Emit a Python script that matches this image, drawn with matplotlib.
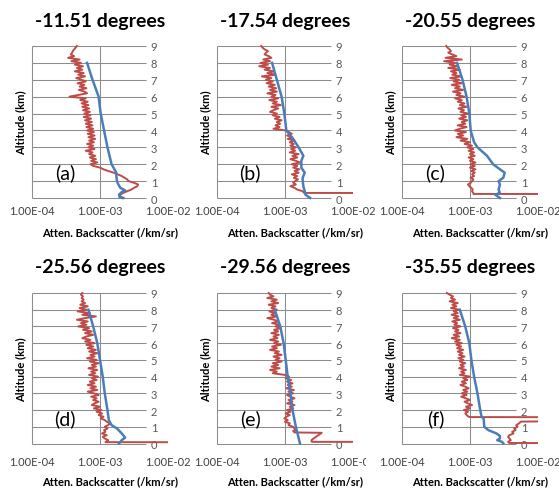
"""
Lidar backscatter profiles at six latitudes
"""

import numpy as np
import matplotlib
matplotlib.use('Agg')
import matplotlib.pyplot as plt
from matplotlib.patches import Rectangle

plt.rcParams['font.family'] = ['Lato', 'DejaVu Sans']

#Panel titles and tags
TITLES = ['-11.51 degrees', '-17.54 degrees', '-20.55 degrees',
          '-25.56 degrees', '-29.56 degrees', '-35.55 degrees']
TAGS = ['(a)', '(b)', '(c)', '(d)', '(e)', '(f)']

#Axis ticks
XTICKS = [1e-4, 1e-3, 1e-2]
XTICK_LABELS = ['1.00E-04', '1.00E-03', '1.00E-02']
YTICKS = [0, 1, 2, 3, 4, 5, 6, 7, 8, 9]

#Blue profile (altitude km, log10 backscatter)
blue_alt_a = [8, 7, 6, 5, 4, 3, 2, 1.5, 1.3, 1.0, 0.8, 0.6, 0.45, 0.35, 0.2, 0.05, 0.0]
blue_log_a = [-3.19, -3.11, -3.02, -2.99, -2.94, -2.89, -2.83, -2.76, -2.76, -2.75,
              -2.73, -2.70, -2.63, -2.68, -2.72, -2.71, -2.67]
blue_alt_b = [8, 7, 6, 5, 4, 3.5, 3, 2.5, 2.2, 1.8, 1.5, 1.2, 1.0, 0.7, 0.4, 0.2, 0.0]
blue_log_b = [-3.19, -3.12, -3.05, -3.01, -2.98, -2.88, -2.80, -2.73, -2.76, -2.76,
              -2.71, -2.74, -2.74, -2.73, -2.71, -2.70, -2.63]
blue_alt_c = [8, 7, 6, 5, 4, 3.3, 3.0, 2.5, 2.0, 1.7, 1.5, 1.2, 1.0, 0.8, 0.5, 0.3, 0.2, 0.0]
blue_log_c = [-3.19, -3.11, -3.05, -3.01, -2.99, -2.94, -2.89, -2.75, -2.66, -2.56,
              -2.49, -2.51, -2.58, -2.56, -2.58, -2.56, -2.63, -2.56]
blue_alt_d = [8, 7, 6, 5, 4, 3, 2, 1.4, 1.1, 0.9, 0.6, 0.35, 0.2, 0.0]
blue_log_d = [-3.17, -3.10, -3.04, -3.00, -2.96, -2.93, -2.89, -2.87, -2.83, -2.75,
              -2.68, -2.63, -2.68, -2.72]
blue_alt_e = [8, 7, 6, 5, 4, 3, 2, 1, 0]
blue_log_e = [-3.15, -3.07, -3.02, -2.99, -2.96, -2.92, -2.89, -2.84, -2.78]
blue_alt_f = [8, 7, 6, 5, 4, 3, 2, 1.6, 1.5, 1.0, 0.8, 0.6, 0.45, 0.3, 0.2, 0.1, 0.0]
blue_log_f = [-3.15, -3.07, -3.01, -2.98, -2.94, -2.89, -2.85, -2.83, -2.80, -2.79,
              -2.73, -2.61, -2.56, -2.56, -2.60, -2.53, -2.51]

#Red profile: log10 values every 0.1 km from 9 km downwards
red_log_a = [-3.34, -3.36, -3.38, -3.40, -3.41, -3.43, -3.38, -3.47, -3.30, -3.42,
             -3.28, -3.37, -3.25, -3.34, -3.26, -3.37, -3.24, -3.32, -3.22, -3.35,
             -3.27, -3.21, -3.33, -3.23, -3.30, -3.20, -3.31, -3.23, -3.19, -3.32,
             -3.45, -3.21, -3.29, -3.18, -3.27, -3.17, -3.26, -3.16, -3.25, -3.15,
             -3.23, -3.14, -3.24, -3.13, -3.22, -3.12, -3.21, -3.11, -3.20, -3.10,
             -3.19, -3.09, -3.18, -3.08, -3.17, -3.07, -3.16, -3.09, -3.19, -3.10,
             -3.17, -3.08, -3.21, -3.11, -3.16, -3.07, -3.15, -3.06, -3.13, -3.04,
             -3.14, -3.10, -3.00, -2.95, -2.88, -2.80, -2.74, -2.68, -2.64, -2.60,
             -2.58, -2.50, -2.44, -2.45, -2.50, -2.54, -2.60, -2.66, -2.70, -2.71,
             -2.65]
red_log_b = [-3.35, -3.33, -3.30, -3.25, -3.28, -3.30, -3.24, -3.20, -3.32, -3.22,
             -3.36, -3.25, -3.38, -3.22, -3.30, -3.16, -3.26, -3.14, -3.34, -3.20,
             -3.28, -3.18, -3.27, -3.15, -3.24, -3.13, -3.22, -3.12, -3.26, -3.14,
             -3.20, -3.10, -3.23, -3.12, -3.18, -3.06, -3.20, -3.10, -3.17, -3.22,
             -3.12, -3.18, -3.08, -3.15, -3.05, -3.12, -3.07, -3.14, -3.08, -3.17,
             -2.99, -2.94, -2.90, -2.97, -2.89, -2.96, -2.86, -2.93, -2.87, -2.92,
             -2.84, -2.91, -2.85, -2.93, -2.80, -2.89, -2.82, -2.92, -2.84, -2.78,
             -2.90, -2.82, -2.88, -2.79, -2.86, -2.80, -2.90, -2.82, -2.87, -2.81,
             -2.85, -2.88, -2.84, -2.92, -2.86, -2.82, -2.74]
red_log_c = [-3.35, -3.33, -3.30, -3.28, -3.32, -3.26, -3.20, -3.36, -3.12, -3.38,
             -3.22, -3.30, -3.18, -3.32, -3.15, -3.28, -3.20, -3.26, -3.13, -3.29,
             -3.16, -3.24, -3.12, -3.27, -3.15, -3.22, -3.10, -3.25, -3.14, -3.20,
             -3.08, -3.22, -3.12, -3.18, -3.08, -3.15, -3.05, -3.17, -3.09, -3.14,
             -3.03, -3.13, -3.06, -3.16, -3.04, -3.12, -3.07, -3.18, -3.05, -3.15,
             -3.22, -3.06, -3.18, -3.10, -3.20, -3.04, -3.14, -3.00, -3.08, -2.97,
             -3.04, -2.95, -3.02, -2.94, -3.00, -2.93, -3.02, -2.95, -3.00, -2.92,
             -2.99, -2.93, -3.00, -2.92, -2.98, -2.93, -2.97, -2.94, -2.99, -2.95,
             -2.97, -2.99, -3.03, -3.01, -2.98, -2.96, -2.97, -2.95]
red_log_d = [-3.26, -3.28, -3.25, -3.27, -3.24, -3.27, -3.22, -3.29, -3.18, -3.30,
             -3.20, -3.33, -3.15, -3.26, -3.06, -3.22, -3.34, -3.18, -3.28, -3.20,
             -3.32, -3.16, -3.25, -3.12, -3.22, -3.10, -3.20, -3.26, -3.14, -3.22,
             -3.08, -3.20, -3.10, -3.18, -3.06, -3.16, -3.04, -3.14, -3.08, -3.19,
             -3.05, -3.15, -3.02, -3.12, -3.06, -3.17, -3.04, -3.13, -3.07, -3.16,
             -3.03, -3.12, -3.05, -3.15, -3.08, -3.18, -3.06, -3.14, -3.04, -3.18,
             -3.09, -3.02, -3.13, -3.05, -3.10, -3.02, -3.08, -3.12, -3.00, -3.09,
             -2.98, -3.05, -2.97, -3.02, -2.95, -2.99, -2.93, -2.90, -2.85, -2.88,
             -2.93, -2.89, -2.94, -2.92, -2.97, -2.90, -2.96, -2.93, -2.88]
red_log_e = [-3.24, -3.22, -3.17, -3.26, -3.12, -3.20, -3.10, -3.24, -3.14, -3.20,
             -3.12, -3.23, -3.15, -3.20, -3.12, -3.26, -3.16, -3.10, -3.19, -3.08,
             -3.14, -3.06, -3.16, -3.10, -3.20, -3.09, -3.17, -3.11, -3.22, -3.10,
             -3.16, -3.06, -3.19, -3.12, -3.22, -3.09, -3.15, -3.05, -3.17, -3.08,
             -3.14, -3.05, -3.18, -3.10, -3.20, -3.08, -3.22, -3.12, -3.18, -3.00,
             -2.94, -2.99, -2.91, -2.97, -2.89, -2.96, -2.90, -2.98, -2.87, -2.95,
             -2.88, -2.97, -2.92, -2.86, -2.95, -2.89, -2.97, -2.86, -2.93, -2.88,
             -2.97, -2.92, -2.99, -2.93, -2.98, -3.01, -2.96, -3.00, -2.93, -2.95,
             -2.88, -2.86, -2.84]
red_log_f = [-3.34, -3.30, -3.25, -3.28, -3.22, -3.30, -3.18, -3.26, -3.20, -3.28,
             -3.16, -3.24, -3.18, -3.27, -3.17, -3.24, -3.15, -3.26, -3.19, -3.23,
             -3.14, -3.25, -3.17, -3.22, -3.14, -3.24, -3.16, -3.27, -3.15, -3.22,
             -3.12, -3.20, -3.13, -3.19, -3.10, -3.18, -3.11, -3.16, -3.08, -3.17,
             -3.10, -3.15, -3.07, -3.14, -3.09, -3.16, -3.06, -3.13, -3.08, -3.15,
             -3.00, -3.10, -3.04, -3.12, -3.06, -3.14, -3.07, -3.02, -3.10, -3.04,
             -3.12, -3.05, -3.13, -3.06, -3.00, -3.08, -3.03, -2.97, -3.06, -3.00,
             -3.09, -3.03, -3.07, -3.05]

#Red profile near the surface (altitude km, log10 backscatter)
red_tail_alt_a = []
red_tail_log_a = []
red_tail_alt_b = [0.30, 0.29]
red_tail_log_b = [-2.72, 0.0]
red_tail_alt_c = [0.24, 0.23]
red_tail_log_c = [-2.95, 0.0]
red_tail_alt_d = [0.08, 0.07]
red_tail_log_d = [-2.92, 0.0]
red_tail_alt_e = [0.75, 0.66, 0.64, 0.58, 0.44, 0.30, 0.20, 0.12, 0.10, 0.09]
red_tail_log_e = [-2.88, -2.86, -2.46, -2.48, -2.53, -2.58, -2.61, -2.61, -2.60, 0.0]
red_tail_alt_f = [1.60, 1.58, 1.57, 1.52, 1.50, 1.47, 1.35, 1.31, 1.2, 1.1, 1.0, 0.9,
                  0.8, 0.7, 0.6, 0.5, 0.4, 0.3, 0.2, 0.1, 0.03, 0.02]
red_tail_log_f = [-3.02, -3.00, -1.0, -1.0, -1.95, -1.0, -1.0, -2.25, -2.28, -2.32,
                  -2.30, -2.35, -2.33, -2.38, -2.36, -2.42, -2.44, -2.42, -2.40,
                  -2.44, -2.42, 0.0]

blue_alt = [blue_alt_a, blue_alt_b, blue_alt_c, blue_alt_d, blue_alt_e, blue_alt_f]
blue_log = [blue_log_a, blue_log_b, blue_log_c, blue_log_d, blue_log_e, blue_log_f]
red_log = [red_log_a, red_log_b, red_log_c, red_log_d, red_log_e, red_log_f]
red_tail_alt = [red_tail_alt_a, red_tail_alt_b, red_tail_alt_c,
                red_tail_alt_d, red_tail_alt_e, red_tail_alt_f]
red_tail_log = [red_tail_log_a, red_tail_log_b, red_tail_log_c,
                red_tail_log_d, red_tail_log_e, red_tail_log_f]

BLUE = '#4a7ebb'
RED = '#be4b48'
GRID = '#8c8c8c'

W, H = 559, 489
fig = plt.figure(figsize=(W / 100, H / 100), dpi=100)

#Pixel layout: left edge of each column, y pixel of 0 km and 9 km for each row
col_left = [32, 217, 402]
row_y0 = [199, 444.5]
row_y9 = [47, 294]
title_y = [21, 267]
tick_pad = [4, 8]
xlabel_dy = [34, 37]
plot_w = 136
YPAD = 0.1

for i in range(6):
    r, c = divmod(i, 3)
    px_per_km = (row_y0[r] - row_y9[r]) / 9
    top = row_y9[r] - YPAD * px_per_km
    bottom = row_y0[r] + YPAD * px_per_km
    ax = fig.add_axes([col_left[c] / W, (H - bottom) / H, plot_w / W, (bottom - top) / H])
    ax.set_zorder(2 if i == 5 else 0)
    ax.set_xscale('log')
    ax.set_xlim(1e-4, 1e-2)
    ax.set_ylim(-YPAD, 9 + YPAD)
    for s in ax.spines.values():
        s.set_visible(False)

    #Gridlines
    ax.hlines(YTICKS, 1e-4, 10 ** -2.32, color=GRID, lw=0.75, clip_on=False, zorder=1)
    ax.vlines([1e-4, 1e-3], 0, 9, color=GRID, lw=0.75, clip_on=False, zorder=1)

    #Profiles
    alt_main = np.round(9 - 0.1 * np.arange(len(red_log[i])), 2)
    red_alt = np.concatenate([alt_main, red_tail_alt[i]])
    red_val = 10 ** np.concatenate([red_log[i], red_tail_log[i]])
    ax.plot(red_val, red_alt, color=RED, lw=1.4, zorder=3)
    ax.plot(10 ** np.array(blue_log[i]), blue_alt[i], color=BLUE, lw=1.8, zorder=4)

    #Ticks
    ax.set_xticks(XTICKS)
    ax.set_xticklabels(XTICK_LABELS)
    ax.minorticks_off()
    ax.tick_params(axis='x', length=0, pad=tick_pad[r], labelsize=8, labelcolor='#404040')
    ax.yaxis.tick_right()
    ax.set_yticks(YTICKS)
    ax.tick_params(axis='y', length=0, pad=-12.5, labelsize=8, labelcolor='#595959')

    #Labels
    h_px = bottom - top
    ax.set_ylabel('Altitude (km)', fontsize=8, fontweight='bold')
    ax.yaxis.set_label_position('left')
    ax.yaxis.set_label_coords(-11 / plot_w, 0.5)
    ax.yaxis.label.set_va('center')
    ax.set_xlabel('Atten. Backscatter (/km/sr)', fontsize=8, fontweight='bold')
    ax.xaxis.set_label_coords(0.5 + 10 / plot_w,
                              -(row_y0[r] + xlabel_dy[r] - bottom) / h_px)
    ax.xaxis.label.set_va('center')
    ax.text(10 ** -3.51, 1.5, TAGS[i], fontsize=14, ha='center', va='center')
    fig.text((col_left[c] + plot_w / 2) / W, (H - title_y[r]) / H, TITLES[i],
             fontsize=14, fontweight='bold', ha='center', va='center', zorder=5)

#Chart area of panel (f) covers the edge of panel (e)
fig.add_artist(Rectangle((366 / W, 0), (W - 366) / W, (H - 250) / H,
                         transform=fig.transFigure, facecolor='white',
                         edgecolor='none', zorder=1))

plt.savefig('out.png', dpi=100)
